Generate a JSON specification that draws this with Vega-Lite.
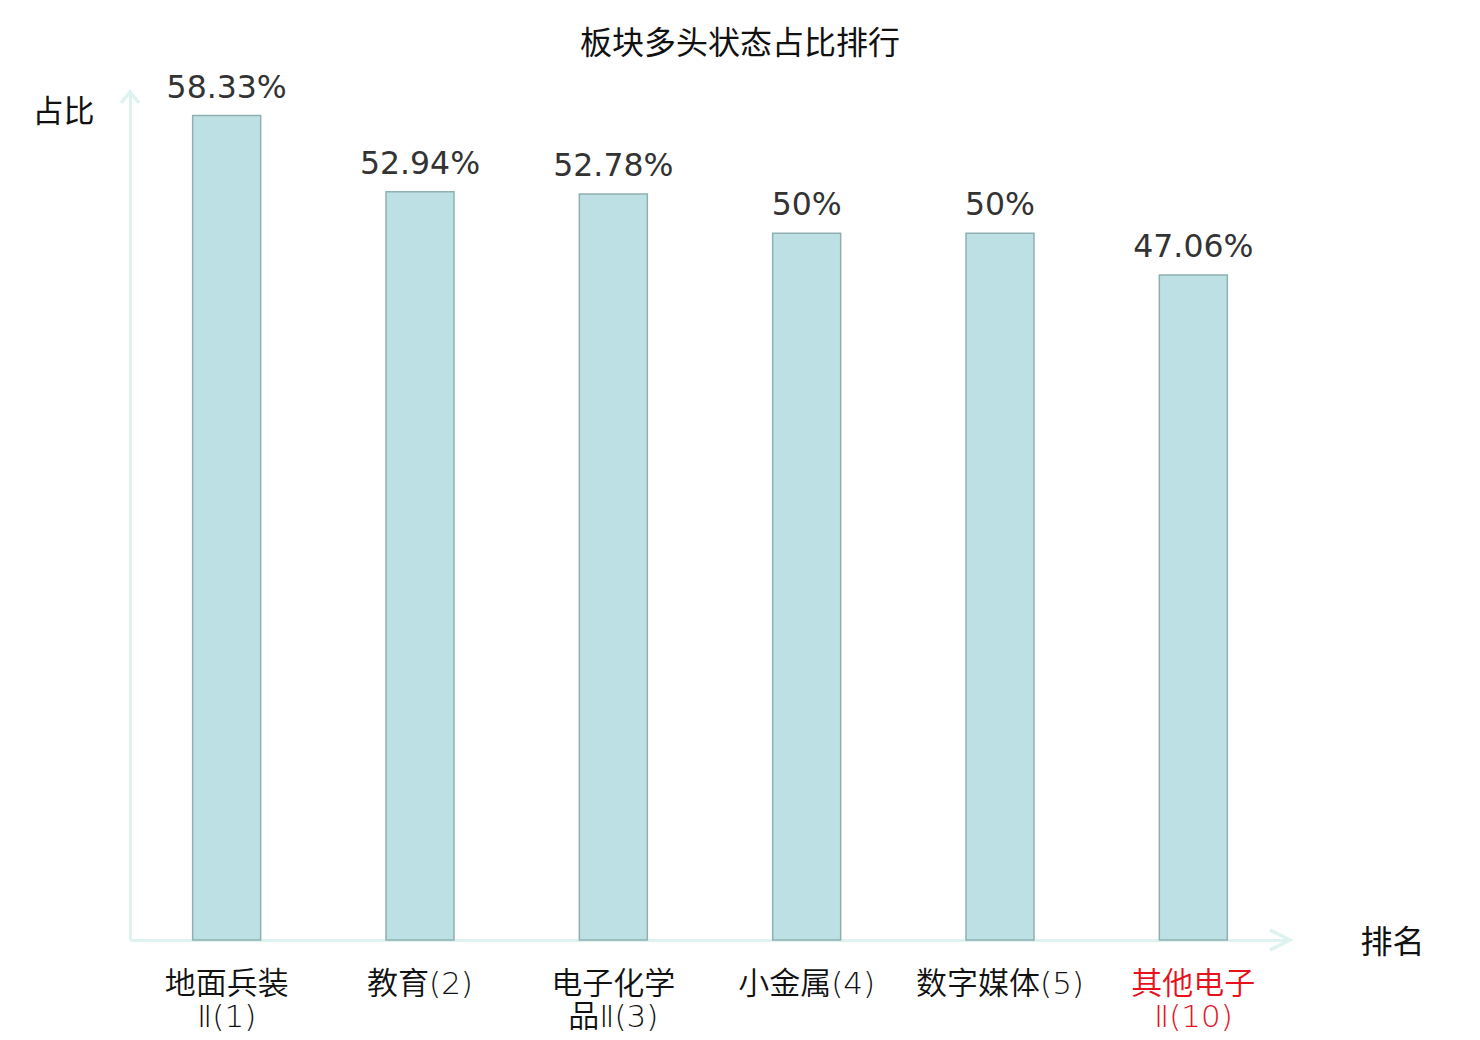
{
  "$schema": "https://vega.github.io/schema/vega-lite/v6.json",
  "width": 1160,
  "height": 848,
  "autosize": {"type": "none"},
  "padding": {"left": 130, "top": 92, "right": 190, "bottom": 100},
  "background": "white",
  "config": {
    "view": {"stroke": null},
    "font": "DejaVu Sans, Noto Sans CJK SC",
    "axis": {"labelFont": "DejaVu Sans, Noto Sans CJK SC", "titleFont": "DejaVu Sans, Noto Sans CJK SC"}
  },
  "title": {
    "text": "板块多头状态占比排行",
    "fontSize": 32,
    "fontWeight": "normal",
    "color": "#111111",
    "anchor": "middle",
    "frame": "group",
    "dx": 30,
    "offset": -20,
    "baseline": "bottom"
  },
  "layer": [
    {
      "data": {
        "values": [
          {"sector": "地面兵装Ⅱ(1)", "ratio": 0.5833},
          {"sector": "教育(2)", "ratio": 0.5294},
          {"sector": "电子化学品Ⅱ(3)", "ratio": 0.5278},
          {"sector": "小金属(4)", "ratio": 0.5},
          {"sector": "数字媒体(5)", "ratio": 0.5},
          {"sector": "其他电子Ⅱ(10)", "ratio": 0.4706}
        ]
      },
      "encoding": {
        "x": {
          "field": "sector", "type": "nominal", "sort": null,
          "scale": {"paddingInner": 0, "paddingOuter": 0},
          "axis": {
            "title": "排名",
            "titleFontSize": 32,
            "titleFontWeight": "normal",
            "titleColor": "#111111",
            "titleAngle": 0,
            "titleAlign": "center",
            "titleBaseline": "middle",
            "titleX": 1262,
            "titleY": 2,
            "labelAngle": 0,
            "labelFontSize": 31,
            "labelFontWeight": 350,
            "labelColor": {"condition": {"test": "datum.value == '其他电子Ⅱ(10)'", "value": "#e8101a"}, "value": "#111111"},
            "labelPadding": 29,
            "labelLineHeight": 33,
            "labelBaseline": "top",
            "labelExpr": "length(datum.label) > 7 ? [substring(datum.label, 0, 4), substring(datum.label, 4)] : datum.label",
            "ticks": false,
            "domainColor": "#def2f0",
            "domainWidth": 3
          }
        },
        "y": {
          "field": "ratio", "type": "quantitative",
          "scale": {"domain": [0, 0.6], "nice": false},
          "axis": {
            "title": "占比",
            "titleFontSize": 31,
            "titleFontWeight": "normal",
            "titleColor": "#111111",
            "titleAngle": 0,
            "titleAlign": "center",
            "titleBaseline": "middle",
            "titleX": -67,
            "titleY": 20,
            "labels": false,
            "ticks": false,
            "grid": false,
            "domainColor": "#def2f0",
            "domainWidth": 3
          }
        }
      },
      "layer": [
        {
          "mark": {"type": "bar", "width": 68, "fill": "#bce0e4", "stroke": "#8fb0b0", "strokeWidth": 1.5}
        },
        {
          "mark": {"type": "text", "baseline": "alphabetic", "dy": -18, "fontSize": 31.5, "color": "#333333"},
          "encoding": {
            "text": {"field": "ratio", "type": "quantitative", "format": ".2~%"}
          }
        }
      ]
    },
    {
      "data": {"values": [{"px": 0, "py": 0.6, "dir": "up"}, {"px": 1, "py": 0, "dir": "right"}]},
      "mark": {"type": "point", "filled": false, "strokeWidth": 3.5, "color": "#def2f0", "opacity": 1},
      "encoding": {
        "x": {"field": "px", "type": "quantitative", "scale": {"domain": [0, 1], "nice": false, "zero": false}, "axis": null},
        "y": {"field": "py", "type": "quantitative"},
        "shape": {
          "field": "dir", "type": "nominal",
          "scale": {"domain": ["up", "right"], "range": ["M-0.9,1.1L0,0L0.9,1.1", "M-2,-1L0,0L-2,1"]},
          "legend": null
        },
        "size": {"value": 400}
      }
    }
  ],
  "resolve": {"scale": {"x": "independent"}}
}
